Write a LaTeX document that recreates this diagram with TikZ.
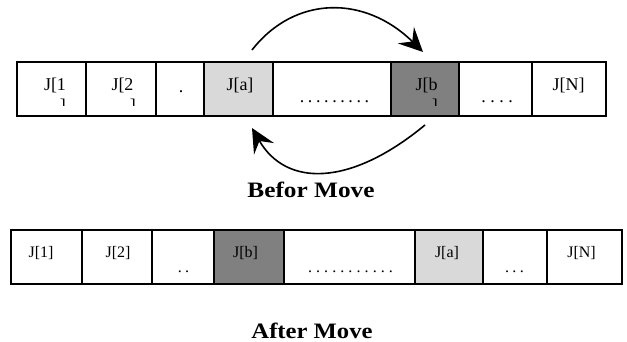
\documentclass[tikz,border=0pt]{standalone}
\usepackage{fontspec}
\setmainfont{Liberation Serif}
\usetikzlibrary{arrows.meta}
\definecolor{lg}{HTML}{D9D9D9}
\definecolor{dg}{HTML}{808080}
\begin{document}
\begin{tikzpicture}[x=1pt,y=-1pt,
  cell/.style={draw, line width=1.4pt, inner sep=0pt, minimum height=54pt},
  tlab/.style={inner sep=0pt, anchor=base, font=\fontsize{18}{18}\selectfont},
  blab/.style={inner sep=0pt, anchor=base, font=\fontsize{16}{16}\selectfont},
  brk/.style={inner sep=0pt, anchor=north east, font=\fontsize{18}{18}\selectfont},
  title/.style={inner sep=0pt, anchor=base, font=\fontsize{22}{22}\selectfont\bfseries},
  mv/.style={line width=1.6pt, -{Stealth[length=24pt,width=23pt,inset=9pt]}}
]
\useasboundingbox (0,0) rectangle (627,342);

% top row cells
\node[cell, minimum width=69pt] (t1) at (51.5,89) {};
\node[cell, minimum width=70pt] (t2) at (121,89) {};
\node[cell, minimum width=48pt] (t3) at (180,89) {};
\node[cell, minimum width=69pt, fill=lg] (t4) at (238.5,89) {};
\node[cell, minimum width=118pt] (t5) at (332,89) {};
\node[cell, minimum width=68pt, fill=dg] (t6) at (425,89) {};
\node[cell, minimum width=73pt] (t7) at (495.5,89) {};
\node[cell, minimum width=74pt] (t8) at (569,89) {};

% top row texts
\node[tlab] (x1) at (55,91) {J[1};
\node[tlab] (x2) at (122.5,91) {J[2};
\node[tlab] (x3) at (181,93) {.};
\node[tlab] (x4) at (240,91) {J[a]};
\node[tlab] (x5) at (334.5,103) {.\kern3.6pt.\kern3.6pt.\kern3.6pt.\kern3.6pt.\kern3.6pt.\kern3.6pt.\kern3.6pt.\kern3.6pt.};
\node[tlab] (x6) at (426.5,91) {J[b};
\node[tlab] (x7) at (497,103) {.\kern4.5pt.\kern4.5pt.\kern4.5pt.};
\node[tlab] (x8) at (568.5,91) {J[N]};

% wrapped brackets
\begin{scope}
  \clip (50,98.5) rectangle (75,105.5);
  \node[brk] (m1) at (66,99) {]};
\end{scope}
\begin{scope}
  \clip (120,98.5) rectangle (145,105.5);
  \node[brk] (m2) at (136,99) {]};
\end{scope}
\begin{scope}
  \clip (420,98) rectangle (445,105.5);
  \node[brk] (m3) at (438,98.5) {]};
\end{scope}

% arrows
\coordinate (a1) at (252,50);
\coordinate (a2) at (423,52);
\coordinate (b1) at (425,125);
\coordinate (b2) at (252,128);
\draw[mv] (a1) .. controls (295,-5) and (365,-5) .. (a2);
\draw[mv] (b1) .. controls (350,187) and (286,187) .. (b2);

\node[title] (before) at (311,198) {\scalebox{1.15}[1]{Befor Move}};

% bottom row cells
\node[cell, minimum width=71pt] (u1) at (46.5,257) {};
\node[cell, minimum width=70pt] (u2) at (117,257) {};
\node[cell, minimum width=62pt] (u3) at (183,257) {};
\node[cell, minimum width=70pt, fill=dg] (u4) at (249,257) {};
\node[cell, minimum width=131pt] (u5) at (349.5,257) {};
\node[cell, minimum width=68pt, fill=lg] (u6) at (449,257) {};
\node[cell, minimum width=64pt] (u7) at (515,257) {};
\node[cell, minimum width=75pt] (u8) at (584.5,257) {};

% bottom row texts
\node[blab] (y1) at (41,258) {J[1]};
\node[blab] (y2) at (118,258) {J[2]};
\node[blab] (y3) at (183.5,272) {.\kern3.2pt.};
\node[blab] (y4) at (245.5,258) {J[b]};
\node[blab] (y5) at (350.5,272) {.\kern4.1pt.\kern4.1pt.\kern4.1pt.\kern4.1pt.\kern4.1pt.\kern4.1pt.\kern4.1pt.\kern4.1pt.\kern4.1pt.\kern4.1pt.};
\node[blab] (y6) at (447,258) {J[a]};
\node[blab] (y7) at (514.5,272) {.\kern3.5pt.\kern3.5pt.};
\node[blab] (y8) at (581.5,258) {J[N]};

\node[title] (after) at (312,338) {\scalebox{1.12}[1]{After Move}};
\end{tikzpicture}
\end{document}
